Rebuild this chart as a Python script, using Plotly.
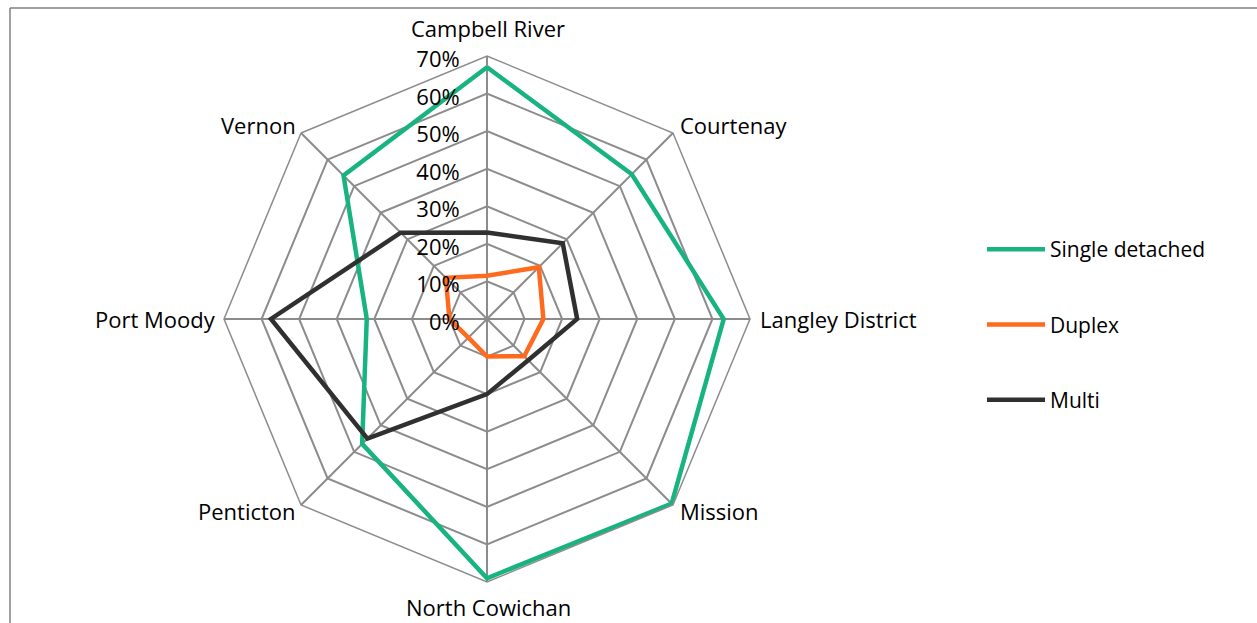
import math
import plotly.graph_objects as go

# Share of housing stock by type, per municipality (%)
municipalities = ["Campbell River", "Courtenay", "Langley District", "Mission",
                  "North Cowichan", "Penticton", "Port Moody", "Vernon"]
single_detached = [67, 54.5, 63, 69.5, 69, 47, 32, 54]
duplex = [11.5, 19.5, 15, 14, 10, 7, 10, 15.5]
multi = [23, 28.5, 24, 15.5, 20, 45, 57.5, 32.5]
radial_ticks = [0, 10, 20, 30, 40, 50, 60, 70]
radial_tick_labels = [f"{v}%" for v in radial_ticks]

W, H = 1257, 623
FONT = "Open Sans"
GRID = "#8c8c8c"

# polar area in pixels (square, so the chart is a regular octagon)
PL, PR, PT, PB = 224, 750, 56, 582

series = [
    ("Single detached", single_detached, "#17b381"),
    ("Duplex", duplex, "#ff6a1f"),
    ("Multi", multi, "#303030"),
]

fig = go.Figure()
for i, (name, vals, color) in enumerate(series):
    fig.add_trace(go.Scatterpolar(
        r=vals + vals[:1],
        theta=municipalities + municipalities[:1],
        mode="lines",
        name=name,
        legendgroup=f"g{i}",
        line=dict(color=color, width=4.5),
    ))


def px_x(p):
    return p / W


def px_y(p):
    return 1 - p / H


# category labels set just outside each corner of the outer ring
cx, cy = (PL + PR) / 2, (PT + PB) / 2
rad = (PR - PL) / 2
annotations = []
n = len(municipalities)
for k, label in enumerate(municipalities):
    ang = math.pi / 2 - 2 * math.pi * k / n
    c, s = math.cos(ang), math.sin(ang)
    vx, vy = cx + rad * c, cy - rad * s
    if abs(c) < 1e-6:
        xa, ox = "center", 1
        oy = -28 if s > 0 else 25
    elif abs(s) < 1e-6:
        xa = "left" if c > 0 else "right"
        ox, oy = (8 if c > 0 else -6), 0
    else:
        xa = "left" if c > 0 else "right"
        ox = 5 if c > 0 else -3
        oy = -8 if s > 0 else 6
    annotations.append(dict(
        text=label, xref="paper", yref="paper",
        x=px_x(vx + ox), y=px_y(vy + oy),
        xanchor=xa, yanchor="middle", showarrow=False,
        font=dict(family=FONT, size=22, color="black"),
    ))

fig.update_layout(
    width=W, height=H,
    margin=dict(l=0, r=0, t=0, b=0),
    paper_bgcolor="white",
    plot_bgcolor="white",
    font=dict(family=FONT, size=21, color="black"),
    polar=dict(
        domain=dict(x=[px_x(PL), px_x(PR)], y=[px_y(PB), px_y(PT)]),
        bgcolor="white",
        gridshape="linear",
        angularaxis=dict(
            direction="clockwise",
            rotation=90,
            showline=True,
            linecolor=GRID,
            linewidth=1.5,
            gridcolor=GRID,
            gridwidth=1.5,
            ticks="",
            showticklabels=False,
        ),
        radialaxis=dict(
            range=[0, 70],
            angle=90,
            side="counterclockwise",
            tickvals=radial_ticks,
            ticktext=radial_tick_labels,
            showline=False,
            gridcolor=GRID,
            gridwidth=1.5,
            ticks="outside",
            ticklen=7,
            tickcolor="rgba(0,0,0,0)",
            tickfont=dict(family=FONT, size=22, color="black"),
        ),
    ),
    legend=dict(
        x=px_x(982), y=px_y(229),
        xanchor="left", yanchor="top",
        traceorder="grouped",
        tracegroupgap=45,
        itemwidth=58,
        font=dict(family=FONT, size=21, color="black"),
        bgcolor="rgba(0,0,0,0)",
    ),
    annotations=annotations,
    shapes=[
        # outer frame (top and left edges visible)
        dict(type="line", xref="paper", yref="paper",
             x0=px_x(10), y0=px_y(8), x1=1.0, y1=px_y(8),
             line=dict(color="#808080", width=1.5)),
        dict(type="line", xref="paper", yref="paper",
             x0=px_x(10), y0=px_y(8), x1=px_x(10), y1=0.0,
             line=dict(color="#808080", width=1.5)),
    ],
)

fig.write_html("out.html")
